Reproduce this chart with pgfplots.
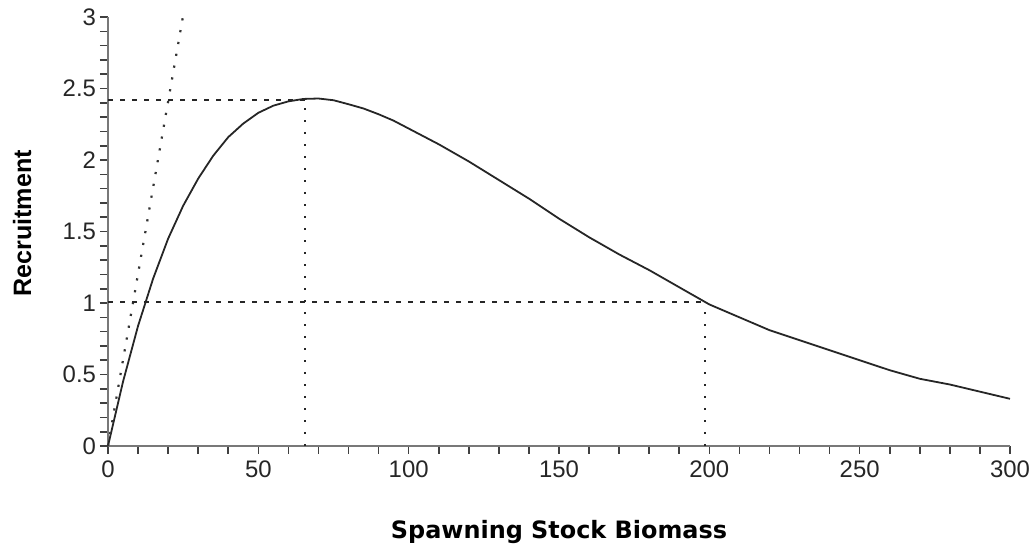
\documentclass[border=0pt]{standalone}
\usepackage{pgfplots}
\pgfplotsset{compat=1.18}
\usepackage{fontspec}
\setmainfont{Liberation Sans}
\newfontfamily\xlabfont{DejaVu Sans}
\definecolor{axisgray}{RGB}{120,120,120}
\begin{document}
\begin{tikzpicture}
\begin{axis}[name=ax,
  scale only axis, width=451bp, height=214.5bp,
  xmin=0, xmax=300, ymin=0, ymax=3,
  axis lines=left,
  axis line style={-, line width=1.3bp, color=axisgray},
  xtick={0,50,...,300}, ytick={0,0.5,1,1.5,2,2.5,3},
  xticklabels={0,50,100,150,200,250,300},
  yticklabels={0,0.5,1,1.5,2,2.5,3},
  minor x tick num=4, minor y tick num=4,
  tick align=outside, major tick length=4bp, minor tick length=4bp,
  tick style={line width=0.8bp, color=black!75},
  ticklabel style={font=\fontsize{12}{14}\selectfont, text=black!85},
  yticklabel style={xshift=1.5bp},
  /pgf/number format/assume math mode=true,
  clip=false,
  xlabel={\xlabfont\bfseries Spawning Stock Biomass},
  ylabel={\bfseries Recruitment},
  xlabel style={at={(axis description cs:0.5,-0.2)}, anchor=center, font=\fontsize{12}{14}\selectfont},
  ylabel style={at={(axis description cs:-0.0953,0.519)}, anchor=center, rotate=0, font=\fontsize{12.6}{14}\selectfont},
]
% Recruitment curve
\addplot[black!85, line width=0.9bp, line join=round] coordinates {
(0,0) (5,0.45) (10,0.84) (15,1.17) (20,1.45) (25,1.68) (30,1.87) (35,2.03)
(40,2.16) (45,2.255) (50,2.33) (55,2.38) (60,2.41) (65,2.427) (70,2.43)
(75,2.418) (80,2.39) (85,2.36) (90,2.32) (95,2.275) (100,2.22) (105,2.165)
(110,2.11) (115,2.05) (120,1.99) (125,1.925) (130,1.86) (135,1.795) (140,1.73)
(145,1.66) (150,1.59) (155,1.525) (160,1.46) (165,1.40) (170,1.34) (175,1.285)
(180,1.23) (185,1.17) (190,1.11) (195,1.05) (200,0.99) (205,0.945) (210,0.90)
(215,0.855) (220,0.81) (225,0.775) (230,0.74) (235,0.705) (240,0.67) (245,0.635)
(250,0.60) (255,0.565) (260,0.53) (265,0.50) (270,0.47) (275,0.45) (280,0.43)
(285,0.405) (290,0.38) (295,0.355) (300,0.33)
};
% replacement line (dotted)
\addplot[black!80, line width=1.1bp, dash pattern=on 1.1bp off 4.9bp] coordinates {(0,0) (24.9,3)};
% reference lines
\addplot[black!85, line width=0.8bp, dash pattern=on 2.5bp off 3.5bp] coordinates {(0,2.42) (65.5,2.42)};
\addplot[black!85, line width=0.8bp, dash pattern=on 1.2bp off 4.8bp] coordinates {(65.5,0) (65.5,2.42)};
\addplot[black!85, line width=0.8bp, dash pattern=on 2.5bp off 3.5bp] coordinates {(0,1.007) (198.5,1.007)};
\addplot[black!85, line width=0.8bp, dash pattern=on 1.2bp off 4.8bp] coordinates {(198.5,0) (198.5,1.007)};
\end{axis}
\pgfresetboundingbox
\path[use as bounding box] ([xshift=-54bp,yshift=-53bp]ax.south west) rectangle ([xshift=12bp,yshift=8.5bp]ax.north east);
\end{tikzpicture}
\end{document}
